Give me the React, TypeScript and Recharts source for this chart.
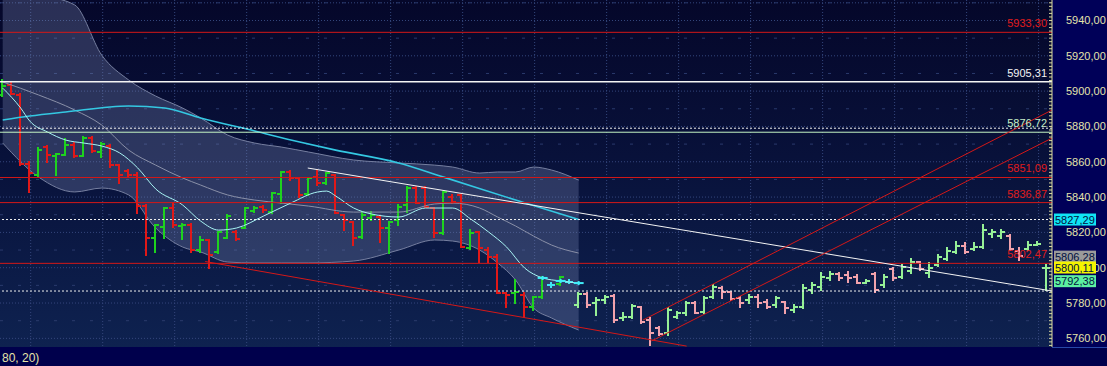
import React from 'react';
import { ComposedChart, XAxis, YAxis, CartesianGrid, Bar, Line, Area, ReferenceLine } from 'recharts';

const opens = [5898,5903.5,5898,5859,5852.5,5868.5,5863.5,5864,5869.5,5863.4,5873.6,5865.7,5869.1,5858,5855,5852.5,5835,5816.6,5823.2,5833.6,5823.5,5824.2,5810,5815.7,5809.1,5817,5820.4,5822.5,5832,5834.5,5831.7,5842,5854.4,5850.6,5842,5851.5,5847.8,5852.5,5829.8,5826,5817.5,5828,5828.9,5822.3,5827,5835.5,5845,5845,5833.6,5819.4,5840.2,5841.2,5810.9,5820.4,5810,5806.2,5785.5,5785.5,5784.5,5777.9,5783.6,5790.3,5790.5,5791.9,5778.9,5785,5779.8,5781.7,5784,5771.3,5772.2,5777.5,5770.4,5765.7,5762.8,5772.2,5774.1,5780.2,5775.1,5783.6,5788.3,5786.4,5782.6,5781.7,5783.6,5780.7,5778.8,5780.7,5776,5777.9,5787.3,5789.2,5794,5796.4,5795.8,5794.9,5791.5,5796.4,5790.2,5799.5,5795,5798,5803,5797,5801.5,5805,5809,5812.5,5810.5,5812,5819,5818,5818,5809.5,5810.5,5813,5799.8];
const highs = [5906.5,5904.5,5898.3,5860,5867.6,5868.9,5864.5,5872.7,5870.4,5874.2,5874.2,5870.4,5869.5,5858.3,5855.5,5853.4,5835.5,5824.2,5833.6,5836.8,5824.5,5824.5,5817.2,5815.9,5820.4,5829.8,5820.6,5833.6,5834.5,5834.8,5842.1,5854.4,5854.6,5850.8,5850.6,5855.3,5853.4,5852.7,5829.9,5826.1,5831.7,5831.7,5829,5826,5835.5,5845.9,5845.9,5845.9,5833.7,5843,5841.2,5841.3,5821.3,5820.5,5810.9,5807.2,5785.6,5793,5785.5,5783.6,5794.9,5791.5,5794.9,5792.8,5785.5,5785.5,5782.6,5784,5784.5,5774.1,5778.9,5777.9,5771.3,5766.6,5777,5775.1,5780.7,5780.7,5783.6,5790.2,5789.2,5786.5,5783.6,5784.5,5784.5,5781.7,5783.6,5780.8,5778.8,5790.2,5791.1,5796.8,5797.7,5796.8,5797.7,5795.8,5793,5796.8,5795.8,5800,5801.5,5804.7,5803.4,5802.4,5807.2,5810.9,5814.7,5813.8,5813.8,5824.2,5821.3,5821.3,5818.5,5810.9,5814.7,5814.7,5801.5];
const lows = [5897,5898.2,5858,5843,5851.5,5859.6,5852.5,5863.8,5862.9,5863,5865.7,5862.9,5857.2,5848,5852,5830.8,5807.2,5809.1,5816.6,5823.2,5816,5809.1,5809.1,5800,5808.1,5816.6,5815.7,5822.3,5831.7,5831.7,5830.8,5836.4,5849.6,5840.2,5841.2,5846.8,5847.6,5830.8,5821.3,5812.8,5816.6,5827,5814.7,5808.1,5824.2,5831.7,5836.4,5834.5,5817.5,5819.3,5836.4,5811.9,5810.8,5803.4,5803.4,5785.5,5777.9,5779.8,5772.2,5776,5782.6,5789,5790.2,5791.2,5777.9,5777.9,5773.2,5779.8,5769.4,5770.4,5771.3,5768.5,5756.2,5761.9,5761.9,5771.3,5773.2,5774.1,5774.1,5782.6,5782.6,5781.7,5777.9,5779.8,5777.9,5777,5777.9,5774.1,5775.1,5777,5785.5,5787.3,5793,5793,5792.1,5791.1,5791.1,5786.4,5789.2,5793,5794,5796.8,5798.7,5794.9,5801,5804.3,5808.1,5808.1,5810,5810.9,5817.5,5816.6,5810,5804.3,5810,5812.8,5787.3];
const closes = [5903,5898.5,5858.5,5853.5,5866.6,5863.8,5864.2,5869.5,5863.4,5873.6,5866.1,5870,5858.1,5852.5,5852.5,5835,5816.6,5824.2,5833.6,5824.2,5824.2,5810,5815.7,5807.2,5820.4,5829,5816,5833.6,5834,5832.5,5842.1,5854.4,5850.6,5841.2,5850.6,5847.8,5853.4,5830.8,5827,5816.6,5829.8,5830,5822.3,5826,5834.5,5844.9,5836.4,5834.5,5819.4,5843,5837.4,5811.9,5819.4,5810.9,5806.2,5785.5,5784.5,5786.4,5777.9,5783.6,5794,5790.3,5794.5,5791.9,5785.1,5778.9,5781.7,5783.6,5770.4,5772.2,5778.3,5769.4,5762.8,5762.4,5776,5774.1,5779.8,5774.5,5782.6,5789.2,5786.4,5782,5780.2,5783.6,5779.8,5777.9,5782.6,5777,5777.9,5788.3,5790.2,5794.9,5796.4,5794,5794,5791.5,5792.6,5787.3,5794.9,5794,5800.5,5803,5799.5,5800,5806,5809.5,5812.5,5809,5812,5821.5,5820,5820,5810.5,5806.5,5813,5813.5,5800.1];
const cyanBars = [61, 63];
const paleFrom = 64;

const bandIdx = [0,4,8,11,14,17,20,22,25,28,31,34,39,44,48,50,53,55,57,59,61,64];
const bandUpper = [5957.3,5954.4,5948.8,5920.4,5906.3,5897.2,5890.4,5884.8,5875.1,5870.6,5868.3,5865.5,5861,5859.3,5858.1,5857,5853.6,5854.2,5854.2,5857,5855.3,5849.6];
const bandLower = [5870.6,5851.3,5842.9,5845.1,5841.2,5822.5,5811.7,5808.9,5803.2,5802.7,5802.7,5802.7,5803.8,5810,5815.7,5815.1,5810,5802.7,5793,5777.2,5771.5,5764.7];
const bandMid = [5905.2,5897.8,5889.3,5880.8,5866.6,5858.1,5850.8,5846.8,5841.2,5838.3,5836.6,5834.9,5831.5,5831.5,5836.1,5836.6,5833.8,5828.7,5823.6,5817.9,5812.8,5808.3];

const slowIdx = [0,3,7,14,18,22,28,33,37,44,49,57,64];
const slowVals = [5883.6,5885.9,5888.2,5891.6,5890.4,5884.8,5877.4,5871.2,5866.6,5859.3,5851.3,5838.3,5827.29];

const fastIdx = [0,2,3,5,7,9,11,13,15,17,20,22,24,26,29,32,35,36,37,39,41,44,47,50,52,54,56,58,60,62,64];
const fastVals = [5901.7,5890.4,5883.1,5876.8,5872.3,5870.6,5868.9,5865,5856.5,5844.6,5835.5,5826.4,5821.3,5822.5,5829.3,5836.6,5842.9,5843.4,5840.6,5833.8,5830.4,5828.7,5833.8,5833.8,5827.6,5820.2,5811.7,5799.8,5794.2,5792.5,5791.3];

const levelValues = [5933.3, 5905.31, 5876.72, 5851.09, 5836.87, 5802.47];
const levelLabels = ['5933,30', '5905,31', '5876,72', '5851,09', '5836,87', '5802,47'];
const levelColors = ['#d41818', '#f4f4f4', '#c4f4c4', '#d41818', '#d41818', '#d41818'];
const levelTextColors = ['#e01c1c', '#f4f4f4', '#c8f0c8', '#e01c1c', '#e01c1c', '#e01c1c'];

const dottedLevels = [5879.0, 5827.29, 5786.8];

const tagValues = [5827.29, 5806.28, 5800.11, 5792.38];
const tagLabels = ['5827,29', '5806,28', '5800,11', '5792,38'];
const tagColors = ['#10e4f4', '#9a9a9a', '#f4f400', '#5cf0a0'];

const whiteTrend = [{ i: 33.9, v: 5856.45 }, { i: 116.6, v: 5786.8 }];
const redTrend = [{ i: 22.5, v: 5803.5 }, { i: 76.0, v: 5755.6 }];
const channelUpper = [{ i: 71.15, v: 5770.35 }, { i: 116.6, v: 5889.3 }];
const channelLower = [{ i: 72.1, v: 5758.5 }, { i: 116.6, v: 5873.4 }];

const Y_MIN = 5755.1;
const Y_MAX = 5951.6;

const bars = opens.map((o, i) => ({ i, o, h: highs[i], l: lows[i], c: closes[i], range: [lows[i], highs[i]] }));
const bandData = bandIdx.map((i, k) => ({ i, range: [bandLower[k], bandUpper[k]], mid: bandMid[k] }));
const slowData = slowIdx.map((i, k) => ({ i, v: slowVals[k] }));
const fastData = fastIdx.map((i, k) => ({ i, v: fastVals[k] }));

const minorTicks: number[] = [];
for (let v = 5756; v <= 5950; v += 2) minorTicks.push(v);
// tag values go last so their boxes are drawn over the regular tick labels
const axisTicks = [...minorTicks, ...tagValues];
const majorY: number[] = [];
for (let v = 5760; v <= 5950; v += 20) majorY.push(v);
majorY.push(5950);
const halfY: number[] = [];
for (let v = 5770; v <= 5950; v += 20) halfY.push(v);
const gridX: number[] = [];
for (let k = 0; k < 29; k++) gridX.push(3.11 + 4 * k);

const barColor = (d: any) => {
  if (cyanBars.includes(d.i)) return '#3ee6f2';
  const up = d.c >= d.o;
  if (d.i >= paleFrom) return up ? '#96f096' : '#f2a2ac';
  return up ? '#1ed21e' : '#e01818';
};

const OhlcShape = (props: any) => {
  const { x, y, width, height, payload } = props;
  if (x == null || payload == null || y == null) return null;
  const cx = Math.round(x + width / 2);
  const top = Math.min(y, y + height);
  const bot = Math.max(y, y + height);
  const span = payload.h - payload.l;
  const py = (v: number) => (span > 0 ? top + ((payload.h - v) / span) * (bot - top) : top);
  const col = barColor(payload);
  return (
    <g stroke={col} strokeWidth={2} shapeRendering="crispEdges">
      <line x1={cx} x2={cx} y1={top - 1} y2={bot + 1} />
      <line x1={cx - 4} x2={cx} y1={py(payload.o)} y2={py(payload.o)} />
      <line x1={cx} x2={cx + 4} y1={py(payload.c)} y2={py(payload.c)} />
    </g>
  );
};

const AxisTick = (props: any) => {
  const { x, y, payload } = props;
  const v = payload.value;
  const k = tagValues.indexOf(v);
  if (k >= 0) {
    return (
      <g>
        <rect x={x + 2} y={y - 6} width={42} height={12} fill={tagColors[k]} />
        <text x={x + 3} y={y} dominantBaseline="central" fontSize={11} fill="#001040">
          {tagLabels[k]}
        </text>
      </g>
    );
  }
  const major = Math.round(v) % 20 === 0 && v <= 5940;
  return (
    <g>
      <line x1={x - 3} x2={x} y1={y} y2={y} stroke="#d8d8a0" strokeWidth={1} />
      {major ? (
        <text x={x + 14} y={y} dominantBaseline="central" fontSize={11} fill="#e4e4ac">
          {v.toFixed(2).replace('.', ',')}
        </text>
      ) : null}
    </g>
  );
};

const FastDot = (props: any) => {
  const { cx, cy, index } = props;
  if (index < fastData.length - 3 || cx == null) return <g key={`fd${index}`} />;
  return (
    <g key={`fd${index}`} stroke="#40ecf8" strokeWidth={2}>
      <line x1={cx - 5} x2={cx + 5} y1={cy} y2={cy} />
      <line x1={cx} x2={cx} y1={cy - 2} y2={cy + 2} />
    </g>
  );
};

export default function App() {
  return (
    <div
      style={{
        position: 'absolute',
        left: 0,
        top: 0,
        width: 1107,
        height: 366,
        background: '#00004c',
        fontFamily: 'Arial, "Liberation Sans", sans-serif',
        overflow: 'hidden',
      }}
    >
      <div
        style={{
          position: 'absolute',
          left: 0,
          top: 0,
          width: 1052,
          height: 347,
          background: 'linear-gradient(180deg, #05072a 0%, #08113a 45%, #0e2250 100%)',
        }}
      />
      <div style={{ position: 'absolute', left: 1052, top: 0, width: 55, height: 347, background: '#000058' }} />
      <div style={{ position: 'absolute', left: 1052, top: 347, width: 55, height: 1, background: '#2848a8' }} />
      <div
        style={{
          position: 'absolute',
          left: 2,
          top: 351,
          fontSize: 12,
          color: '#e4e4a8',
          fontFamily: 'Arial, "Liberation Sans", sans-serif',
        }}
      >
        80, 20)
      </div>
      <div style={{ position: 'absolute', left: 0, top: 0 }}>
        <ComposedChart width={1107} height={366} data={bars} margin={{ top: 0, right: 0, bottom: 19, left: 0 }}>
          <CartesianGrid stroke="#34467c" strokeDasharray="1 2" horizontalValues={majorY} verticalValues={gridX} />
          <CartesianGrid stroke="#2a3a6c" strokeDasharray="3 15" horizontalValues={halfY} vertical={false} />
          <XAxis type="number" dataKey="i" domain={[-0.3, 116.6]} allowDataOverflow hide />
          <YAxis
            orientation="right"
            type="number"
            width={55}
            domain={[Y_MIN, Y_MAX]}
            allowDataOverflow
            ticks={axisTicks}
            interval={0}
            tickSize={0}
            tickMargin={0}
            tickLine={false}
            axisLine={{ stroke: '#dcdca4', strokeWidth: 1 }}
            tick={(p: any) => <AxisTick {...p} />}
          />
          <Area
            data={bandData}
            dataKey="range"
            type="monotone"
            fill="#8090b8"
            fillOpacity={0.3}
            stroke="#767fa0"
            strokeWidth={1}
            activeDot={false}
            isAnimationActive={false}
          />
          <Line data={bandData} dataKey="mid" type="monotone" stroke="#8a90a8" strokeWidth={1} dot={false} activeDot={false} isAnimationActive={false} />
          <Line data={slowData} dataKey="v" type="monotone" stroke="#34c8e2" strokeWidth={1.6} dot={false} activeDot={false} isAnimationActive={false} />
          <Line data={fastData} dataKey="v" type="monotone" stroke="#a8f4f4" strokeWidth={1} dot={FastDot} activeDot={false} isAnimationActive={false} />
          {levelValues.map((v, k) => (
            <ReferenceLine
              key={`lv${k}`}
              y={v}
              stroke={levelColors[k]}
              strokeWidth={k === 1 ? 1.5 : 1}
              label={{ value: levelLabels[k], position: 'insideBottomRight', fill: levelTextColors[k], fontSize: 11, offset: 5 }}
            />
          ))}
          {dottedLevels.map((v, k) => (
            <ReferenceLine key={`dl${k}`} y={v} stroke="#f0f0f0" strokeDasharray="2 2" strokeWidth={1} />
          ))}
          <ReferenceLine segment={[{ x: whiteTrend[0].i, y: whiteTrend[0].v }, { x: whiteTrend[1].i, y: whiteTrend[1].v }]} stroke="#f4f4f4" strokeWidth={1} ifOverflow="hidden" />
          <ReferenceLine segment={[{ x: redTrend[0].i, y: redTrend[0].v }, { x: redTrend[1].i, y: redTrend[1].v }]} stroke="#d41818" strokeWidth={1} ifOverflow="hidden" />
          <ReferenceLine segment={[{ x: channelUpper[0].i, y: channelUpper[0].v }, { x: channelUpper[1].i, y: channelUpper[1].v }]} stroke="#d41818" strokeWidth={1} ifOverflow="hidden" />
          <ReferenceLine segment={[{ x: channelLower[0].i, y: channelLower[0].v }, { x: channelLower[1].i, y: channelLower[1].v }]} stroke="#d41818" strokeWidth={1} ifOverflow="hidden" />
          <Bar dataKey="range" barSize={6} shape={OhlcShape} activeBar={false} isAnimationActive={false} />
        </ComposedChart>
      </div>
    </div>
  );
}
